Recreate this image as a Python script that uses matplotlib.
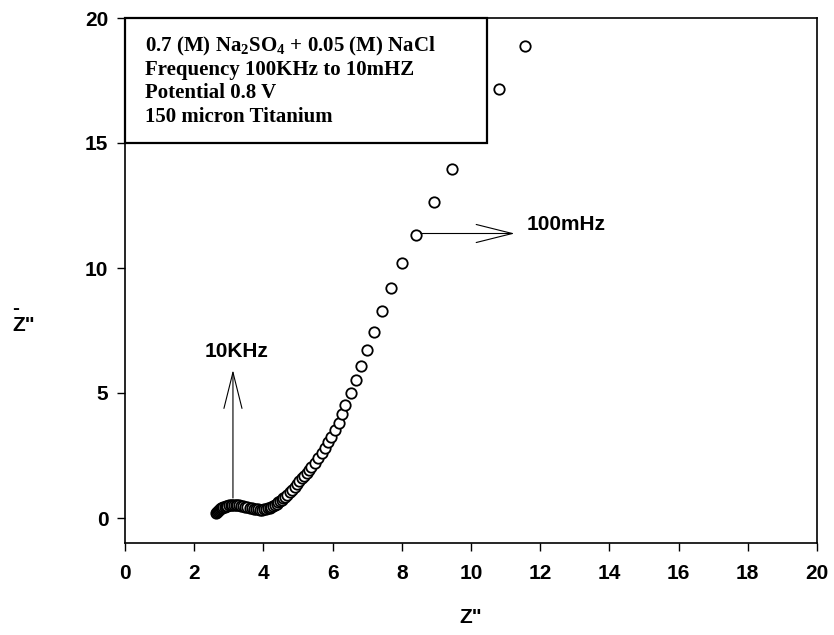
import matplotlib
matplotlib.use('Agg')
import matplotlib.pyplot as plt
from matplotlib.patches import Rectangle

plt.rcParams['font.family'] = ['Liberation Sans', 'DejaVu Sans']
plt.rcParams['mathtext.fontset'] = 'custom'
plt.rcParams['mathtext.rm'] = 'Liberation Serif:bold'

# Nyquist data, high frequency (left) to low frequency (top right)
z_real = [2.64, 2.66, 2.68, 2.71, 2.74, 2.77, 2.80, 2.84, 2.88, 2.92,
          2.96, 3.00, 3.05, 3.10, 3.15, 3.20, 3.25, 3.30, 3.36, 3.42,
          3.48, 3.54, 3.60, 3.66, 3.72, 3.78, 3.84, 3.90, 3.96, 4.02,
          4.08, 4.13, 4.18, 4.23, 4.28, 4.33, 4.38, 4.43, 4.48, 4.53,
          4.58, 4.62,
          4.69, 4.76, 4.83, 4.90, 4.97, 5.04, 5.11, 5.18, 5.25, 5.32, 5.39,
          5.48, 5.58, 5.68, 5.77, 5.88, 5.96, 6.07, 6.18,
          6.27, 6.37, 6.52, 6.68, 6.83, 6.99, 7.19, 7.43, 7.68, 8.02,
          8.40, 8.92, 9.44, 10.82, 11.57]
z_imag = [0.20, 0.25, 0.29, 0.33, 0.36, 0.39, 0.42, 0.44, 0.46, 0.48,
          0.50, 0.51, 0.52, 0.53, 0.53, 0.53, 0.52, 0.51, 0.50, 0.48,
          0.46, 0.44, 0.42, 0.40, 0.38, 0.36, 0.35, 0.34, 0.34, 0.35,
          0.37, 0.39, 0.42, 0.45, 0.49, 0.53, 0.58, 0.63, 0.68, 0.74,
          0.80, 0.84,
          0.94, 1.04, 1.14, 1.25, 1.36, 1.47, 1.59, 1.70, 1.82, 1.93, 2.05,
          2.21, 2.39, 2.59, 2.79, 3.03, 3.25, 3.52, 3.79,
          4.15, 4.52, 5.01, 5.52, 6.09, 6.73, 7.43, 8.29, 9.20, 10.20,
          11.32, 12.64, 13.96, 17.16, 18.88]

x_ticks = [0, 2, 4, 6, 8, 10, 12, 14, 16, 18, 20]
y_ticks = [0, 5, 10, 15, 20]

info_lines = ['0.7 (M) Na$_2$SO$_4$ + 0.05 (M) NaCl',
              'Frequency 100KHz to 10mHZ',
              'Potential 0.8 V',
              '150 micron Titanium']

fig = plt.figure(figsize=(8.34, 6.35), dpi=100)
ax = fig.add_axes([125/834, 92/635, 692/834, 525/635])

ax.plot(z_real, z_imag, 'o', mfc='white', mec='black', ms=7.5, mew=1.3,
        linestyle='none', zorder=2)

# info box
ax.add_patch(Rectangle((0, 15), 10.45, 5, facecolor='white', edgecolor='black',
                       lw=1.6, zorder=3, clip_on=False))
for i, line in enumerate(info_lines):
    ax.text(0.58, 18.66 - i * 0.935, line, family='Liberation Serif',
            fontweight='bold', fontsize=15, ha='left', va='baseline', zorder=4)

# frequency markers
arrow_kw = dict(arrowstyle='->,head_length=26,head_width=6.5', mutation_scale=1,
                lw=0.8, color='black', shrinkA=0, shrinkB=0)
ax.annotate('', xy=(3.12, 5.92), xytext=(3.12, 0.8), arrowprops=arrow_kw)
ax.text(3.22, 6.65, '10KHz', fontweight='bold', fontsize=15, ha='center', va='center')
ax.annotate('', xy=(11.26, 11.38), xytext=(8.55, 11.38), arrowprops=arrow_kw)
ax.text(11.62, 11.72, '100mHz', fontweight='bold', fontsize=15, ha='left', va='center')

ax.set_xlim(0, 20)
ax.set_ylim(-1, 20)
ax.set_xticks(x_ticks)
ax.set_yticks(y_ticks)
ax.tick_params(direction='out', length=6, width=1, labelsize=15, top=False, right=False)
ax.tick_params(axis='x', pad=9)
ax.tick_params(axis='y', pad=6)
for lab in ax.get_xticklabels() + ax.get_yticklabels():
    lab.set_fontweight('bold')
for sp in ax.spines.values():
    sp.set_linewidth(1.2)

ax.set_xlabel('Z"', fontweight='bold', fontsize=15)
ax.xaxis.set_label_coords(0.5, -0.141)
ax.xaxis.label.set_va('center')
ax.set_ylabel('-\nZ"', fontweight='bold', fontsize=15, rotation=0,
              ha='left', va='center', linespacing=0.85)
ax.yaxis.set_label_coords(-0.163, 0.43)

fig.savefig('out.png', dpi=100)
